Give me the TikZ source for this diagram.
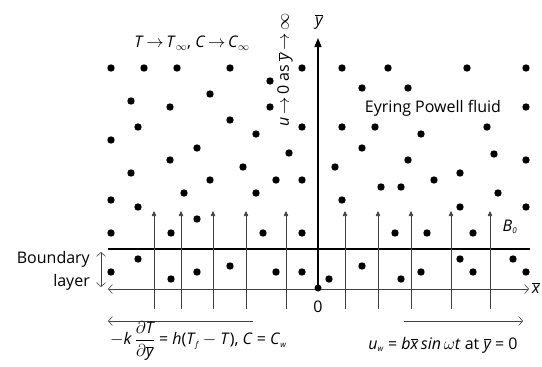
\documentclass[tikz,border=0pt]{standalone}
\usepackage{fontspec}
\setmainfont{Open Sans}
\usetikzlibrary{arrows.meta}
\newcommand\vi[1]{\textit{#1}}
\newcommand\sbs[1]{$_{\mbox{\fontsize{8}{8}\selectfont\itshape #1}}$}
\newcommand\ybar{$\overline{\mbox{\itshape y}}$}
\newcommand\xbar{$\overline{\mbox{\itshape x}}$}
\tikzset{
  dot/.style={fill=black},
  txt/.style={inner sep=0pt, font=\fontsize{16}{18}\selectfont},
  thinline/.style={line width=0.6pt, draw=black!75},
  chev/.style={thinline, {Straight Barb[length=4pt,width=9pt]}-{Straight Barb[length=4pt,width=9pt]}},
  chevend/.style={thinline, -{Straight Barb[length=4pt,width=9pt]}},
  uparrow/.style={thinline, -{Triangle[length=5pt,width=4.5pt]}},
}
\begin{document}
\begin{tikzpicture}[x=1pt,y=-1pt]
\useasboundingbox (0,0) rectangle (542,367);
% dots
\foreach \p in {
 (111,68),(144,68),(177,68),(230,68),(302,68),(342,68),(388,68),(467,68),(526,68),
 (270,81),(362,88),(408,88),(210,94),(131,101),
 (170,107),(270,107),(526,107),(230,120),
 (138,127),(302,127),(342,127),(375,127),(487,127),
 (256,134),(421,134),(111,140),(197,148),(362,148),
 (289,153),(494,154),(170,160),(408,160),(526,160),
 (243,167),(335,167),(131,173),(460,173),
 (210,180),(276,180),(302,180),(434,180),
 (381,187),(401,187),(184,193),(256,193),(498,193),
 (111,200),(342,200),(138,207),(460,207),(526,207),(197,219),
 (111,233),(171,233),(263,233),(302,233),(395,233),(427,233),(473,233),
 (138,259),(460,259),(513,259),(230,266),(362,266),
 (111,272),(197,272),(276,272),(302,272),(421,272),(473,272),(526,272),
 (171,279),(329,279),(401,279)}
  \fill[dot] \p circle (3.7);
% plate and axes
\coordinate (pl) at (108,249);
\coordinate (pr) at (530,249);
\draw[line width=2pt] (pl) -- (pr);
\coordinate (xl) at (108,289);
\coordinate (xr) at (529,289);
\draw[chev] (xl) -- (xr);
\coordinate (O) at (318,288);
\coordinate (ytop) at (318,38);
\draw[line width=1.4pt, -{Triangle[length=9pt,width=7pt]}] (O) -- (ytop);
\fill (O) circle (3.5);
% upward arrows
\foreach \x [count=\i] in {154,181,213,246,286,345,378,411,451,490}{
  \coordinate (ua\i) at (\x,309);
  \coordinate (ub\i) at (\x,211);
  \draw[uparrow] (ua\i) -- (ub\i);
}
% boundary layer arrow
\coordinate (bt) at (101,252);
\coordinate (bb) at (101,287);
\draw[chev] (bt) -- (bb);
% bottom arrows
\coordinate (la) at (253,321);
\coordinate (lb) at (108,321);
\draw[chevend] (la) -- (lb);
\coordinate (ra) at (404,321);
\coordinate (rb) at (523,321);
\draw[chevend] (ra) -- (rb);
% texts
\node[txt] (top) at (192,43) {\vi{T}\,$\to$\,\vi{T}$_\infty$, \vi{C}\,$\to$\,\vi{C}$_\infty$};
\node[txt, rotate=90] (cond) at (285,70) {\vi{u}\,$\to$\,0 as \ybar\,$\to$\,$\infty$};
\node[txt] (ylab) at (319,22) {\ybar};
\node[txt] (fluid) at (433,108) {Eyring Powell fluid};
\node[txt] (B0) at (510,227) {\vi{B}\sbs{0}};
\node[txt, anchor=east] (bd) at (90,259) {Boundary};
\node[txt, anchor=east] (ly) at (90,282) {layer};
\node[txt] (zero) at (318,307) {0};
\node[txt, anchor=west] (xlab) at (532,288) {\xbar};
\node[txt, anchor=west] (leq) at (110,341) {$-$\vi{k}\,$\displaystyle\frac{\partial\mbox{\itshape T}}{\partial\overline{\mbox{\itshape y}}}$ = \vi{h}(\vi{T}\sbs{f} $-$ \vi{T}), \vi{C} = \vi{C}\sbs{w}};
\node[txt] (req) at (443,345) {\vi{u}\sbs{w} = \vi{b}\xbar\,\vi{sin}\,$\omega$\vi{t} at \ybar{} = 0};
\end{tikzpicture}
\end{document}
